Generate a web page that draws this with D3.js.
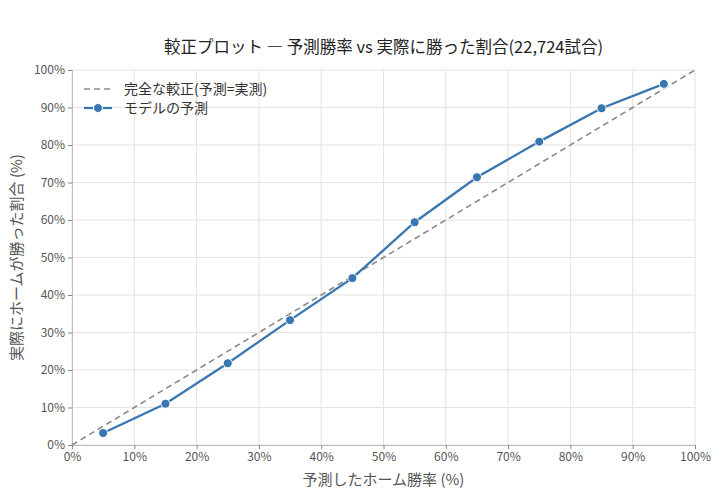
<!DOCTYPE html>
<html><head><meta charset="utf-8">
<script src="https://cdn.jsdelivr.net/npm/d3@7"></script>
<style>body{margin:0;background:#fff;} text{font-family:"Noto Sans CJK JP","Noto Sans",sans-serif;}</style>
</head><body>
<svg id="c" width="725" height="500"></svg>
<script>
const predicted = [5, 15, 25, 35, 45, 55, 65, 75, 85, 95];
const actual = [3.2, 11.0, 21.8, 33.3, 44.5, 59.4, 71.4, 80.9, 89.8, 96.3];
const perfect = [0, 100];
const tickValues = [0,10,20,30,40,50,60,70,80,90,100];
const titleText = "較正プロット ― 予測勝率 vs 実際に勝った割合(22,724試合)";
const xLabel = "予測したホーム勝率 (%)";
const yLabel = "実際にホームが勝った割合 (%)";
const legendLabels = ["完全な較正(予測=実測)", "モデルの予測"];

const svg = d3.select("#c");
const m = {l:72, r:30, t:70, b:55};
const W = 725, H = 500;
const x = d3.scaleLinear().domain([0,100]).range([m.l, W-m.r]);
const y = d3.scaleLinear().domain([0,100]).range([H-m.b, m.t]);

// grid
const g = svg.append("g");
g.selectAll("line.vx").data(tickValues).join("line")
  .attr("x1",d=>x(d)).attr("x2",d=>x(d)).attr("y1",y(0)).attr("y2",y(100))
  .attr("stroke","#e6e2dc").attr("stroke-width",1);
g.selectAll("line.hy").data(tickValues).join("line")
  .attr("y1",d=>y(d)).attr("y2",d=>y(d)).attr("x1",x(0)).attr("x2",x(100))
  .attr("stroke","#e6e2dc").attr("stroke-width",1);

// axes
const fmt = d => d + "%";
const xa = svg.append("g").attr("transform",`translate(0,${y(0)})`)
  .call(d3.axisBottom(x).tickValues(tickValues).tickFormat(fmt).tickSize(4).tickPadding(3));
const ya = svg.append("g").attr("transform",`translate(${x(0)},0)`)
  .call(d3.axisLeft(y).tickValues(tickValues).tickFormat(fmt).tickSize(4).tickPadding(3));
[xa,ya].forEach(a=>{
  a.select(".domain").attr("stroke","#bbb");
  a.selectAll(".tick line").attr("stroke","#888");
  a.selectAll(".tick text").attr("fill","#555").style("font-size","12px")
   .style("font-family","'Noto Sans CJK JP',sans-serif");
});

// perfect line
const line = d3.line().x(d=>x(d[0])).y(d=>y(d[1]));
svg.append("path").datum(perfect.map(v=>[v,v])).attr("d",line)
  .attr("fill","none").attr("stroke","#8a8a8a").attr("stroke-width",1.6)
  .attr("stroke-dasharray","6,4");

// model line
const pts = predicted.map((p,i)=>[p, actual[i]]);
svg.append("path").datum(pts).attr("d",line)
  .attr("fill","none").attr("stroke","#3a76b0").attr("stroke-width",2.3);
svg.selectAll("circle.pt").data(pts).join("circle")
  .attr("cx",d=>x(d[0])).attr("cy",d=>y(d[1])).attr("r",4.5)
  .attr("fill","#3a76b0").attr("stroke","#fff").attr("stroke-width",1);

// title
svg.append("text").attr("x",(x(0)+x(100))/2).attr("y",53).attr("text-anchor","middle")
  .attr("fill","#222").style("font-size","16.5px").text(titleText);
// axis labels
svg.append("text").attr("x",(x(0)+x(100))/2).attr("y",485).attr("text-anchor","middle")
  .attr("fill","#555").style("font-size","15px").text(xLabel);
svg.append("text").attr("transform",`translate(22,${(y(0)+y(100))/2}) rotate(-90)`)
  .attr("text-anchor","middle").attr("fill","#555").style("font-size","15px").text(yLabel);

// legend
const lg = svg.append("g");
lg.append("line").attr("x1",84).attr("x2",112).attr("y1",89).attr("y2",89)
  .attr("stroke","#8a8a8a").attr("stroke-width",1.6).attr("stroke-dasharray","6,4");
lg.append("line").attr("x1",84).attr("x2",112).attr("y1",108).attr("y2",108)
  .attr("stroke","#3a76b0").attr("stroke-width",2.3);
lg.append("circle").attr("cx",98).attr("cy",108).attr("r",4.5).attr("fill","#3a76b0")
  .attr("stroke","#fff").attr("stroke-width",1);
lg.selectAll("text").data(legendLabels).join("text")
  .attr("x",124).attr("y",(d,i)=>89+19*i).attr("dy","0.35em")
  .attr("fill","#333").style("font-size","14px").text(d=>d);
</script>
</body></html>
